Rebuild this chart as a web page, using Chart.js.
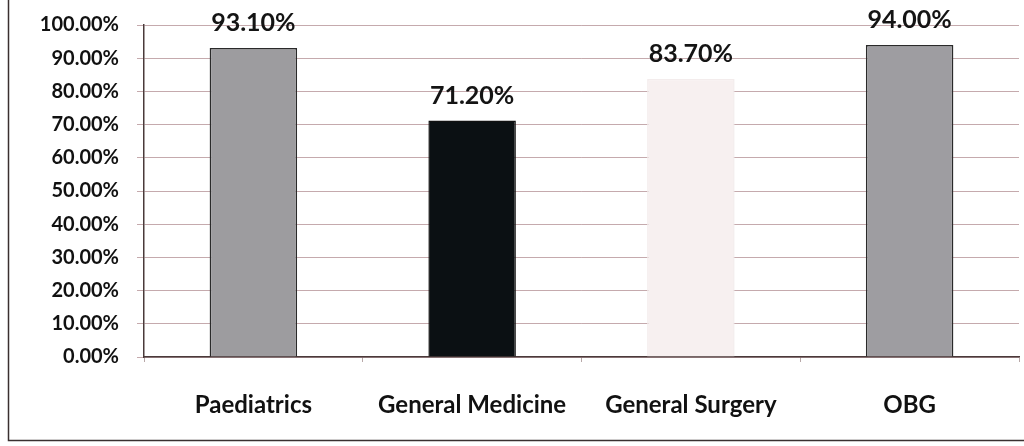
<!DOCTYPE html>
<html>
<head>
<meta charset="utf-8">
<script src="https://cdn.jsdelivr.net/npm/chart.js@4.4.1/dist/chart.umd.min.js"></script>
<style>
  html, body { margin: 0; padding: 0; background: #fff; }
  #wrap { width: 1024px; height: 446px; position: relative; }
  canvas { display: block; }
</style>
</head>
<body>
<div id="wrap"><canvas id="c" width="1024" height="446"></canvas></div>
<script>
const categories = ["Paediatrics", "General Medicine", "General Surgery", "OBG"];
const values = [93.10, 71.20, 83.70, 94.00];
const barColors = ["#9d9c9f", "#0b1013", "#f7f0f0", "#9e9da1"];
const barBorders = ["#2a2a2a", "#111111", "#f3ecec", "#2a2a2a"];
const yTicks = [0, 10, 20, 30, 40, 50, 60, 70, 80, 90, 100];

const FONT = "Lato, 'Open Sans', sans-serif";

const valueLabels = {
  id: 'valueLabels',
  afterDatasetsDraw(chart) {
    const ctx = chart.ctx;
    const meta = chart.getDatasetMeta(0);
    ctx.save();
    ctx.font = "bold 25px " + FONT;
    ctx.fillStyle = "#141414";
    ctx.textAlign = "center";
    ctx.textBaseline = "middle";
    meta.data.forEach((bar, i) => {
      ctx.fillText(values[i].toFixed(2) + "%", bar.x, bar.y - 25);
    });
    ctx.restore();
  }
};

const frame = {
  id: 'frame',
  afterDraw(chart) {
    const ctx = chart.ctx;
    ctx.save();
    ctx.strokeStyle = "#3a3030";
    ctx.lineWidth = 1.5;
    ctx.beginPath();
    ctx.moveTo(8.5, 0);
    ctx.lineTo(8.5, 440.5);
    ctx.lineTo(1024, 440.5);
    ctx.stroke();
    ctx.restore();
  }
};

new Chart(document.getElementById('c'), {
  type: 'bar',
  data: {
    labels: categories,
    datasets: [{
      data: values,
      backgroundColor: barColors,
      borderColor: barBorders,
      borderWidth: 1.5,
      barPercentage: 0.4,
      categoryPercentage: 1.0
    }]
  },
  options: {
    responsive: false,
    animation: false,
    events: [],
    layout: { padding: { top: 25, right: 5, bottom: 0, left: 0 } },
    plugins: {
      legend: { display: false },
      tooltip: { enabled: false },
      title: { display: false }
    },
    scales: {
      x: {
        afterFit(scale) { scale.height = 89; },
        grid: {
          offset: true,
          drawOnChartArea: false,
          drawTicks: true,
          tickLength: 5,
          color: "#b8a8a8"
        },
        border: { display: true, color: "#4a3a3a", width: 1.5 },
        ticks: {
          color: "#111",
          padding: 29,
          font: { family: FONT, size: 24, weight: "bold" }
        }
      },
      y: {
        min: 0,
        max: 100,
        afterBuildTicks(scale) {
          scale.ticks = yTicks.map(v => ({ value: v }));
        },
        afterFit(scale) {
          scale.width = 144;
          scale.paddingTop = 0;
          scale.paddingBottom = 0;
        },
        grid: {
          color: "rgba(150,100,105,0.55)",
          lineWidth: 1,
          tickLength: 7
        },
        border: { display: true, color: "#4a3a3a", width: 1.5 },
        ticks: {
          color: "#111",
          padding: 18,
          font: { family: FONT, size: 20, weight: "bold" },
          callback: v => Number(v).toFixed(2) + "%"
        }
      }
    }
  },
  plugins: [valueLabels, frame]
});
</script>
</body>
</html>
